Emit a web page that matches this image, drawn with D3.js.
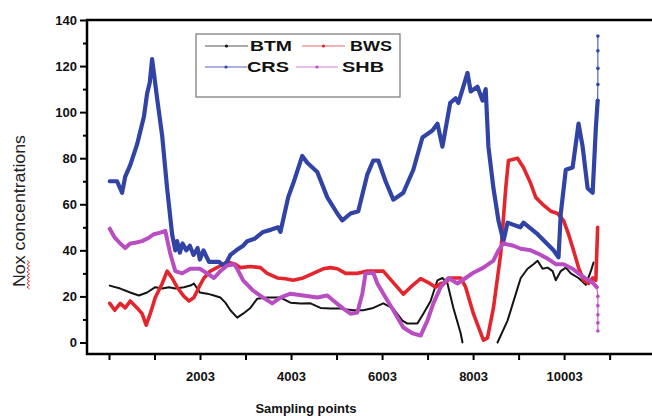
<!DOCTYPE html>
<html>
<head>
<meta charset="utf-8">
<script src="https://cdn.jsdelivr.net/npm/d3@7"></script>
<style>
  body { margin: 0; background: #fff; }
  text { font-family: "Liberation Sans", Arial, sans-serif; }
</style>
</head>
<body>
<svg id="chart" width="652" height="416"></svg>
<script>
// sampling point, Nox value
const btm = [[20,24.7],[250,23.4],[470,21.7],[660,20.4],[840,21.7],[1020,24],[1170,23.4],[1320,24],[1460,23.4],[1650,24],[1790,24.7],[1870,25.6],[2000,21.7],[2160,21.2],[2310,20.4],[2450,19.5],[2560,17.3],[2670,14],[2820,10.8],[2950,12.5],[3110,15],[3260,19],[3480,19.5],[3770,19.5],[3990,17.3],[4210,16.9],[4430,17],[4650,15],[4870,14.7],[5090,14.7],[5370,14],[5590,14],[5810,15],[6030,17],[6250,14.7],[6450,9.5],[6560,8.2],[6780,8.2],[6910,12.5],[7070,18],[7220,27],[7330,28],[7440,25.6],[7570,15],[7730,4],[7770,0],null,[8540,0],[8760,9.5],[8940,21],[9050,28],[9200,32],[9330,34],[9420,35.5],[9530,32],[9640,32.5],[9750,31],[9820,27],[9930,31],[10040,32.5],[10150,30],[10320,28],[10480,25],[10590,31],[10650,34.7]];

const bws = [[20,17],[130,14],[250,17],[360,15],[470,18],[620,15],[730,12.5],[820,7.5],[910,12.5],[1020,19.5],[1170,25.5],[1280,31],[1390,28],[1500,24],[1650,20],[1760,18],[1870,19.5],[1980,24],[2090,28],[2230,31],[2420,33],[2600,35],[2780,34],[2890,32.5],[3110,33],[3330,32.5],[3480,30],[3700,28],[3880,27.7],[4050,27],[4270,28],[4490,30],[4710,32],[4870,32.5],[5020,32],[5200,30],[5460,30],[5680,31],[6030,31],[6250,26],[6470,21],[6630,24],[6850,27.7],[7020,26],[7180,24],[7290,25.6],[7400,26],[7500,28],[7730,28],[7840,24],[8010,12.5],[8230,1],[8320,2],[8450,15],[8610,38.5],[8720,67],[8780,79],[8980,80],[9110,76],[9270,69],[9380,63],[9530,60],[9710,57],[9860,56],[9990,53],[10100,47],[10210,40],[10320,32.5],[10430,27],[10540,25.6],[10630,28],[10700,27],[10740,50]];

const crs = [[20,70],[180,70],[290,65],[360,72],[470,77],[620,86],[770,98],[840,108],[900,113],[950,123],[990,117],[1060,106],[1170,90],[1280,67],[1390,47],[1460,40],[1500,44],[1560,39],[1620,43],[1700,40],[1780,42],[1860,38],[1950,41],[2000,36],[2080,40],[2200,35],[2420,35],[2540,33],[2670,38],[2800,40],[2950,42],[3040,44],[3200,45],[3390,48],[3570,49],[3720,50],[3770,48],[3940,63],[4050,69],[4250,81],[4360,78],[4580,74],[4800,63],[5020,56],[5130,53],[5310,56],[5480,57],[5680,73],[5810,79],[5920,79],[6080,70],[6250,62],[6470,65],[6690,75],[6890,89],[7110,92],[7220,95],[7330,85],[7500,104],[7620,106],[7680,104],[7880,117],[7950,109],[8100,111],[8210,105],[8280,110],[8340,85],[8450,67],[8560,53],[8670,44],[8760,52],[9040,50],[9110,52],[9420,47],[9770,40],[9880,37],[9930,56],[10040,75],[10190,76],[10320,95],[10410,85],[10520,67],[10630,65],[10700,93],[10740,105]];
const crsTail = [[10740,105],[10745,112],[10745,119],[10745,126.6],[10745,133]];

const shb = [[20,49.4],[130,45.5],[250,43],[360,41],[470,43],[580,43.3],[730,44],[880,45.5],[990,47],[1130,47.7],[1240,48.5],[1350,38.5],[1460,31],[1610,30],[1790,32],[2000,32],[2160,30],[2310,28],[2450,31],[2600,33.4],[2750,34],[2820,32],[2950,27],[3170,22.5],[3390,19.5],[3590,17],[3770,19.5],[3990,21.2],[4270,20.4],[4580,19.5],[4800,20.4],[4930,18.2],[5150,14.7],[5310,12.5],[5460,13],[5570,21.2],[5640,30],[5810,30.3],[5900,25.6],[6080,19.5],[6250,14],[6470,6.5],[6670,4],[6850,3],[7000,9.5],[7130,17],[7290,24],[7460,28],[7660,25.6],[7840,28],[8010,30.3],[8230,32.5],[8450,35.5],[8560,40],[8670,43],[8890,42],[9050,40.7],[9270,40],[9440,38.5],[9640,36.4],[9820,34],[9990,34],[10190,32],[10320,30],[10480,27.7],[10630,26],[10720,24]];
const shbTail = [[10720,24],[10745,20],[10745,16],[10745,12],[10745,8.5],[10745,5]];

const yTicks = [0, 20, 40, 60, 80, 100, 120, 140];
const xTicks = [3, 1003, 2003, 3003, 4003, 5003, 6003, 7003, 8003, 9003, 10003, 11003];
const xLabels = ['2003', '4003', '6003', '8003', '10003'];

const series = [
  { name: 'BTM', data: btm, color: '#141414', width: 2 },
  { name: 'BWS', data: bws, color: '#e3262d', width: 3.6 },
  { name: 'CRS', data: crs, color: '#3144a6', width: 4.2, tail: crsTail },
  { name: 'SHB', data: shb, color: '#b94ec2', width: 4, tail: shbTail }
];

const svg = d3.select('#chart');

const x = d3.scaleLinear().domain([-480, 12000]).range([87, 655]);
const y = d3.scaleLinear().domain([-5, 140]).range([354, 20]);

const line = d3.line()
  .defined(d => d !== null)
  .x(d => x(d[0]))
  .y(d => y(d[1]));

series.forEach(s => {
  svg.append('path')
    .datum(s.data)
    .attr('d', line)
    .attr('fill', 'none')
    .attr('stroke', s.color)
    .attr('stroke-width', s.width)
    .attr('stroke-linejoin', 'round')
    .attr('stroke-linecap', 'round');

  if (s.tail) {
    svg.append('path')
      .datum(s.tail)
      .attr('d', line)
      .attr('fill', 'none')
      .attr('stroke', s.color)
      .attr('stroke-width', 1);
    svg.selectAll(null)
      .data(s.tail)
      .enter()
      .append('circle')
      .attr('cx', d => x(d[0]))
      .attr('cy', d => y(d[1]))
      .attr('r', 1.8)
      .attr('fill', s.color);
  }
});

// Axes
const yMinor = d3.range(10, 140, 20);
svg.append('g')
  .attr('transform', 'translate(87,0)')
  .call(d3.axisLeft(y).tickValues(yMinor).tickSize(4).tickFormat(''))
  .call(g => g.select('.domain').remove())
  .call(g => g.selectAll('line').attr('stroke-width', 2));

svg.append('g')
  .attr('transform', 'translate(87,0)')
  .call(d3.axisLeft(y).tickValues(yTicks).tickSize(7).tickPadding(3))
  .call(g => g.select('.domain').remove())
  .call(g => g.selectAll('line').attr('stroke-width', 2))
  .call(g => g.selectAll('text')
    .attr('font-size', 13)
    .attr('font-weight', 'bold')
    .attr('fill', '#111'));

svg.append('g')
  .attr('transform', 'translate(0,354)')
  .call(d3.axisBottom(x).tickValues(xTicks).tickSize(6).tickPadding(12)
    .tickFormat(d => xLabels.includes(String(d)) ? String(d) : ''))
  .call(g => g.select('.domain').remove())
  .call(g => g.selectAll('line').attr('stroke-width', 2))
  .call(g => g.selectAll('text')
    .attr('font-size', 13)
    .attr('font-weight', 'bold')
    .attr('fill', '#111'));

// frame lines
svg.append('line').attr('x1', 87).attr('x2', 87).attr('y1', 19).attr('y2', 355)
  .attr('stroke', '#000').attr('stroke-width', 2.5);
svg.append('line').attr('x1', 86).attr('x2', 652).attr('y1', 354).attr('y2', 354)
  .attr('stroke', '#000').attr('stroke-width', 2.5);
svg.append('line').attr('x1', 86).attr('x2', 652).attr('y1', 20).attr('y2', 20)
  .attr('stroke', '#000').attr('stroke-width', 2.5);

// axis titles
svg.append('text')
  .attr('x', 306)
  .attr('y', 413)
  .attr('text-anchor', 'middle')
  .attr('font-size', 13)
  .attr('font-weight', 'bold')
  .attr('fill', '#111')
  .text('Sampling points');

svg.append('text')
  .attr('transform', 'translate(25,211) rotate(-90)')
  .attr('text-anchor', 'middle')
  .attr('font-size', 16)
  .attr('fill', '#222')
  .attr('textLength', 152)
  .attr('lengthAdjust', 'spacingAndGlyphs')
  .text('Nox concentrations');

// spell-check squiggle under "Nox"
const squiggle = d3.range(0, 16).map(i => [i % 2 ? 27 : 29.5, 289 - i * 1.9]);
svg.append('path')
  .attr('d', d3.line()(squiggle))
  .attr('fill', 'none')
  .attr('stroke', '#e02020')
  .attr('stroke-width', 0.9);

// Legend
const legend = svg.append('g');
legend.append('rect')
  .attr('x', 196).attr('y', 34)
  .attr('width', 204).attr('height', 63)
  .attr('fill', '#fff')
  .attr('stroke', '#808080')
  .attr('stroke-width', 1.3);

const legendPos = [
  { x1: 205, x2: 248, tx: 250, ty: 46 },
  { x1: 302, x2: 345, tx: 350, ty: 46 },
  { x1: 205, x2: 247, tx: 247, ty: 67 },
  { x1: 296, x2: 338, tx: 342, ty: 67 }
];
const legendColors = ['#555', '#e36a6a', '#5a60b8', '#cf7fd3'];

series.forEach((s, i) => {
  const p = legendPos[i];
  legend.append('line')
    .attr('x1', p.x1).attr('x2', p.x2)
    .attr('y1', p.ty).attr('y2', p.ty)
    .attr('stroke', legendColors[i])
    .attr('stroke-width', 1);
  legend.append('circle')
    .attr('cx', (p.x1 + p.x2) / 2).attr('cy', p.ty)
    .attr('r', 1.6)
    .attr('fill', s.color);
  legend.append('text')
    .attr('x', p.tx)
    .attr('y', p.ty + 5)
    .attr('font-size', 14)
    .attr('font-weight', 'bold')
    .attr('fill', '#111')
    .attr('textLength', 42)
    .attr('lengthAdjust', 'spacingAndGlyphs')
    .text(s.name);
});
</script>
</body>
</html>
